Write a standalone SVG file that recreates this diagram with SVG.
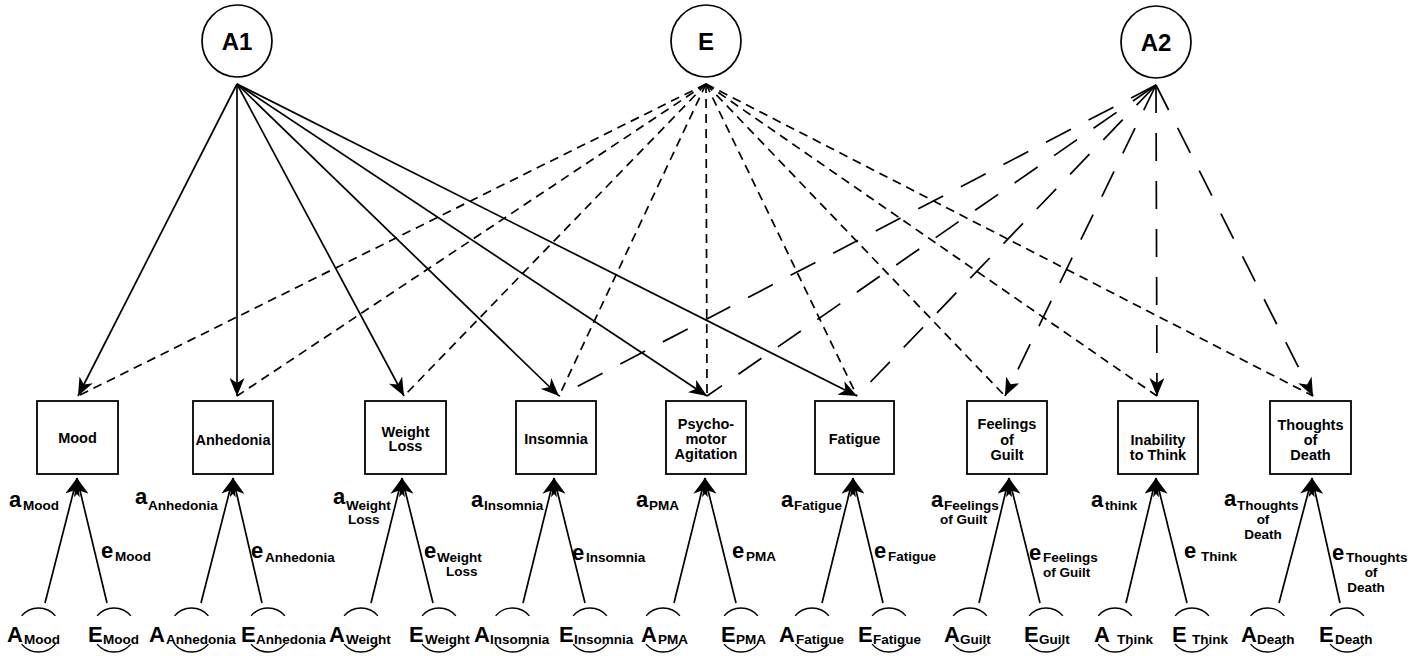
<svg xmlns="http://www.w3.org/2000/svg" width="1419" height="656" viewBox="0 0 1419 656">
<defs>
<style>
.box{fill:none;stroke:#000;stroke-width:1.8}
.lat{fill:#fff;stroke:#000;stroke-width:1.7}
.arc{fill:none;stroke:#000;stroke-width:1.4}
.t{font-family:"Liberation Sans",Arial,sans-serif;font-weight:bold;fill:#000}
.bt{font-size:14.5px;text-anchor:middle}
.big{font-size:24px;text-anchor:middle}
.m{font-size:22px}
.M{font-size:22px}
.s{font-size:13.5px}
.sc{font-size:13.5px;text-anchor:middle}
.ln{fill:none;stroke:#000;stroke-width:1.7}
.ed{stroke-dasharray:9 6}
.ad{stroke-dasharray:28 20}
</style>
<marker id="ah" viewBox="0 0 18 15" refX="18" refY="7.5" markerWidth="18" markerHeight="15" markerUnits="userSpaceOnUse" orient="auto"><path d="M0,0 L18,7.5 L0,15 L5,7.5 Z" fill="#000"/></marker>
</defs>
<rect width="1419" height="656" fill="#fff"/>

<g id="connectors">
<line class="ln" x1="237" y1="84" x2="78" y2="396" marker-end="url(#ah)"/>
<line class="ln" x1="237" y1="84" x2="237" y2="396" marker-end="url(#ah)"/>
<line class="ln" x1="237" y1="84" x2="404" y2="396" marker-end="url(#ah)"/>
<line class="ln" x1="237" y1="84" x2="559" y2="396" marker-end="url(#ah)"/>
<line class="ln" x1="237" y1="84" x2="707" y2="396" marker-end="url(#ah)"/>
<line class="ln" x1="237" y1="84" x2="857" y2="396" marker-end="url(#ah)"/>
<line class="ln ed" x1="706" y1="84" x2="78" y2="396"/>
<line class="ln ed" x1="706" y1="84" x2="237" y2="396"/>
<line class="ln ed" x1="706" y1="84" x2="404" y2="396"/>
<line class="ln ed" x1="706" y1="84" x2="559" y2="396"/>
<line class="ln ed" x1="706" y1="84" x2="707" y2="396"/>
<line class="ln ed" x1="706" y1="84" x2="857" y2="396"/>
<line class="ln ed" x1="706" y1="84" x2="1005" y2="396"/>
<line class="ln ed" x1="706" y1="84" x2="1157" y2="396"/>
<line class="ln ed" x1="706" y1="84" x2="1313" y2="396"/>
<line class="ln ad" x1="1156" y1="85" x2="559" y2="396"/>
<line class="ln ad" x1="1156" y1="85" x2="707" y2="396"/>
<line class="ln ad" x1="1156" y1="85" x2="857" y2="396"/>
<line class="ln ad" x1="1156" y1="85" x2="1005" y2="396" marker-end="url(#ah)"/>
<line class="ln ad" x1="1156" y1="85" x2="1157" y2="396" marker-end="url(#ah)"/>
<line class="ln ad" x1="1156" y1="85" x2="1313" y2="396" marker-end="url(#ah)"/>
<line class="ln" x1="45" y1="603" x2="77" y2="478" marker-end="url(#ah)"/>
<line class="ln" x1="107" y1="603" x2="77" y2="478" marker-end="url(#ah)"/>
<line class="ln" x1="201" y1="603" x2="233" y2="478" marker-end="url(#ah)"/>
<line class="ln" x1="262" y1="603" x2="233" y2="478" marker-end="url(#ah)"/>
<line class="ln" x1="371" y1="603" x2="402" y2="478" marker-end="url(#ah)"/>
<line class="ln" x1="433" y1="603" x2="402" y2="478" marker-end="url(#ah)"/>
<line class="ln" x1="523" y1="603" x2="554" y2="478" marker-end="url(#ah)"/>
<line class="ln" x1="585" y1="603" x2="554" y2="478" marker-end="url(#ah)"/>
<line class="ln" x1="674" y1="603" x2="705" y2="478" marker-end="url(#ah)"/>
<line class="ln" x1="736" y1="603" x2="705" y2="478" marker-end="url(#ah)"/>
<line class="ln" x1="822" y1="603" x2="853" y2="478" marker-end="url(#ah)"/>
<line class="ln" x1="883" y1="603" x2="853" y2="478" marker-end="url(#ah)"/>
<line class="ln" x1="979" y1="603" x2="1009" y2="478" marker-end="url(#ah)"/>
<line class="ln" x1="1040" y1="603" x2="1009" y2="478" marker-end="url(#ah)"/>
<line class="ln" x1="1126" y1="603" x2="1156" y2="478" marker-end="url(#ah)"/>
<line class="ln" x1="1187" y1="603" x2="1156" y2="478" marker-end="url(#ah)"/>
<line class="ln" x1="1279" y1="603" x2="1312" y2="478" marker-end="url(#ah)"/>
<line class="ln" x1="1340" y1="603" x2="1312" y2="478" marker-end="url(#ah)"/>
</g>

<g id="n-A1"><ellipse class="lat" cx="237" cy="41" rx="35" ry="36"/><text class="t big" x="237" y="50">A1</text></g>
<g id="n-E"><ellipse class="lat" cx="706" cy="41" rx="35" ry="36"/><text class="t big" x="706" y="50">E</text></g>
<g id="n-A2"><ellipse class="lat" cx="1156" cy="42" rx="35" ry="36"/><text class="t big" x="1156" y="51">A2</text></g>

<g id="n-mood"><rect class="box" x="37" y="401" width="81" height="73"/><text class="t bt" x="77.5" y="443">Mood</text></g>
<g id="n-anhedonia"><rect class="box" x="193" y="401" width="80" height="73"/><text class="t bt" x="233" y="445">Anhedonia</text></g>
<g id="n-weight"><rect class="box" x="365" y="401" width="81" height="73"/><text class="t bt" x="405.5" y="437">Weight</text><text class="t bt" x="405.5" y="451">Loss</text></g>
<g id="n-insomnia"><rect class="box" x="516" y="401" width="80" height="73"/><text class="t bt" x="556" y="444">Insomnia</text></g>
<g id="n-pma"><rect class="box" x="666" y="401" width="80" height="73"/><text class="t bt" x="706" y="429">Psycho-</text><text class="t bt" x="706" y="444">motor</text><text class="t bt" x="706" y="459">Agitation</text></g>
<g id="n-fatigue"><rect class="box" x="815" y="401" width="79" height="73"/><text class="t bt" x="854.5" y="444">Fatigue</text></g>
<g id="n-guilt"><rect class="box" x="967" y="401" width="80" height="73"/><text class="t bt" x="1007" y="429">Feelings</text><text class="t bt" x="1007" y="445">of</text><text class="t bt" x="1007" y="460">Guilt</text></g>
<g id="n-think"><rect class="box" x="1118" y="401" width="80" height="73"/><text class="t bt" x="1158" y="445">Inability</text><text class="t bt" x="1158" y="460">to Think</text></g>
<g id="n-death"><rect class="box" x="1270" y="401" width="81" height="73"/><text class="t bt" x="1310.5" y="430">Thoughts</text><text class="t bt" x="1310.5" y="445">of</text><text class="t bt" x="1310.5" y="460">Death</text></g>

<g id="path-labels">
<text class="t m" x="9" y="507">a</text><text class="t s" x="23" y="510">Mood</text>
<text class="t m" x="101" y="558">e</text><text class="t s" x="115" y="561">Mood</text>
<text class="t m" x="135" y="504">a</text><text class="t s" x="148" y="510">Anhedonia</text>
<text class="t m" x="251" y="558">e</text><text class="t s" x="265" y="562">Anhedonia</text>
<text class="t m" x="333" y="504">a</text><text class="t s" x="346" y="510">Weight</text><text class="t s" x="348" y="524">Loss</text>
<text class="t m" x="424" y="558">e</text><text class="t s" x="437" y="562">Weight</text><text class="t s" x="446" y="576">Loss</text>
<text class="t m" x="471" y="507">a</text><text class="t s" x="484" y="510">Insomnia</text>
<text class="t m" x="572" y="560">e</text><text class="t s" x="586" y="562">Insomnia</text>
<text class="t m" x="636" y="507">a</text><text class="t s" x="649" y="510">PMA</text>
<text class="t m" x="732" y="558">e</text><text class="t s" x="746" y="561">PMA</text>
<text class="t m" x="781" y="507">a</text><text class="t s" x="794" y="510">Fatigue</text>
<text class="t m" x="874" y="558">e</text><text class="t s" x="888" y="561">Fatigue</text>
<text class="t m" x="931" y="507">a</text><text class="t s" x="944" y="510">Feelings</text><text class="t s" x="940" y="524">of Guilt</text>
<text class="t m" x="1029" y="560">e</text><text class="t s" x="1043" y="562">Feelings</text><text class="t s" x="1043" y="577">of Guilt</text>
<text class="t m" x="1091" y="507">a</text><text class="t s" x="1105" y="510">think</text>
<text class="t m" x="1184" y="558">e</text><text class="t s" x="1201" y="561">Think</text>
<text class="t m" x="1224" y="506">a</text><text class="t s" x="1237" y="510">Thoughts</text><text class="t sc" x="1263" y="524">of</text><text class="t sc" x="1263" y="539">Death</text>
<text class="t m" x="1332" y="560">e</text><text class="t s" x="1346" y="562">Thoughts</text><text class="t sc" x="1371" y="577">of</text><text class="t sc" x="1366" y="592">Death</text>
</g>

<g id="n-A-mood"><path class="arc" d="M21.6,615.9 A22,22 0 0 1 55.4,615.9 M21.6,644.1 A22,22 0 0 0 55.4,644.1"/><text class="t M" x="7" y="642">A</text><text class="t s" x="24" y="644">Mood</text></g>
<g id="n-E-mood"><path class="arc" d="M97.1,615.9 A22,22 0 0 1 130.9,615.9 M97.1,644.1 A22,22 0 0 0 130.9,644.1"/><text class="t M" x="88" y="642">E</text><text class="t s" x="103" y="644">Mood</text></g>
<g id="n-A-anhedonia"><path class="arc" d="M174.6,615.9 A22,22 0 0 1 208.4,615.9 M174.6,644.1 A22,22 0 0 0 208.4,644.1"/><text class="t M" x="149" y="642">A</text><text class="t s" x="166" y="644">Anhedonia</text></g>
<g id="n-E-anhedonia"><path class="arc" d="M251.1,615.9 A22,22 0 0 1 284.9,615.9 M251.1,644.1 A22,22 0 0 0 284.9,644.1"/><text class="t M" x="241" y="642">E</text><text class="t s" x="256" y="644">Anhedonia</text></g>
<g id="n-A-weight"><path class="arc" d="M344.1,615.9 A22,22 0 0 1 377.9,615.9 M344.1,644.1 A22,22 0 0 0 377.9,644.1"/><text class="t M" x="329" y="642">A</text><text class="t s" x="346" y="644">Weight</text></g>
<g id="n-E-weight"><path class="arc" d="M422.1,615.9 A22,22 0 0 1 455.9,615.9 M422.1,644.1 A22,22 0 0 0 455.9,644.1"/><text class="t M" x="409" y="642">E</text><text class="t s" x="425" y="644">Weight</text></g>
<g id="n-A-insomnia"><path class="arc" d="M495.6,615.9 A22,22 0 0 1 529.4,615.9 M495.6,644.1 A22,22 0 0 0 529.4,644.1"/><text class="t M" x="474" y="642">A</text><text class="t s" x="490" y="644">Insomnia</text></g>
<g id="n-E-insomnia"><path class="arc" d="M573.1,615.9 A22,22 0 0 1 606.9,615.9 M573.1,644.1 A22,22 0 0 0 606.9,644.1"/><text class="t M" x="559" y="642">E</text><text class="t s" x="574" y="644">Insomnia</text></g>
<g id="n-A-pma"><path class="arc" d="M646.1,615.9 A22,22 0 0 1 679.9,615.9 M646.1,644.1 A22,22 0 0 0 679.9,644.1"/><text class="t M" x="641" y="642">A</text><text class="t s" x="658" y="644">PMA</text></g>
<g id="n-E-pma"><path class="arc" d="M724.1,615.9 A22,22 0 0 1 757.9,615.9 M724.1,644.1 A22,22 0 0 0 757.9,644.1"/><text class="t M" x="721" y="642">E</text><text class="t s" x="736" y="644">PMA</text></g>
<g id="n-A-fatigue"><path class="arc" d="M795.1,615.9 A22,22 0 0 1 828.9,615.9 M795.1,644.1 A22,22 0 0 0 828.9,644.1"/><text class="t M" x="779" y="642">A</text><text class="t s" x="796" y="644">Fatigue</text></g>
<g id="n-E-fatigue"><path class="arc" d="M872.1,615.9 A22,22 0 0 1 905.9,615.9 M872.1,644.1 A22,22 0 0 0 905.9,644.1"/><text class="t M" x="858" y="642">E</text><text class="t s" x="873" y="644">Fatigue</text></g>
<g id="n-A-guilt"><path class="arc" d="M953.1,615.9 A22,22 0 0 1 986.9,615.9 M953.1,644.1 A22,22 0 0 0 986.9,644.1"/><text class="t M" x="944" y="642">A</text><text class="t s" x="960" y="644">Guilt</text></g>
<g id="n-E-guilt"><path class="arc" d="M1029.1,615.9 A22,22 0 0 1 1062.9,615.9 M1029.1,644.1 A22,22 0 0 0 1062.9,644.1"/><text class="t M" x="1024" y="642">E</text><text class="t s" x="1039" y="644">Guilt</text></g>
<g id="n-A-think"><path class="arc" d="M1098.1,615.9 A22,22 0 0 1 1131.9,615.9 M1098.1,644.1 A22,22 0 0 0 1131.9,644.1"/><text class="t M" x="1094" y="642">A</text><text class="t s" x="1117" y="644">Think</text></g>
<g id="n-E-think"><path class="arc" d="M1175.1,615.9 A22,22 0 0 1 1208.9,615.9 M1175.1,644.1 A22,22 0 0 0 1208.9,644.1"/><text class="t M" x="1172" y="642">E</text><text class="t s" x="1192" y="644">Think</text></g>
<g id="n-A-death"><path class="arc" d="M1250.6,615.9 A22,22 0 0 1 1284.4,615.9 M1250.6,644.1 A22,22 0 0 0 1284.4,644.1"/><text class="t M" x="1241" y="642">A</text><text class="t s" x="1257" y="644">Death</text></g>
<g id="n-E-death"><path class="arc" d="M1330.1,615.9 A22,22 0 0 1 1363.9,615.9 M1330.1,644.1 A22,22 0 0 0 1363.9,644.1"/><text class="t M" x="1319" y="642">E</text><text class="t s" x="1335" y="644">Death</text></g>
</svg>
